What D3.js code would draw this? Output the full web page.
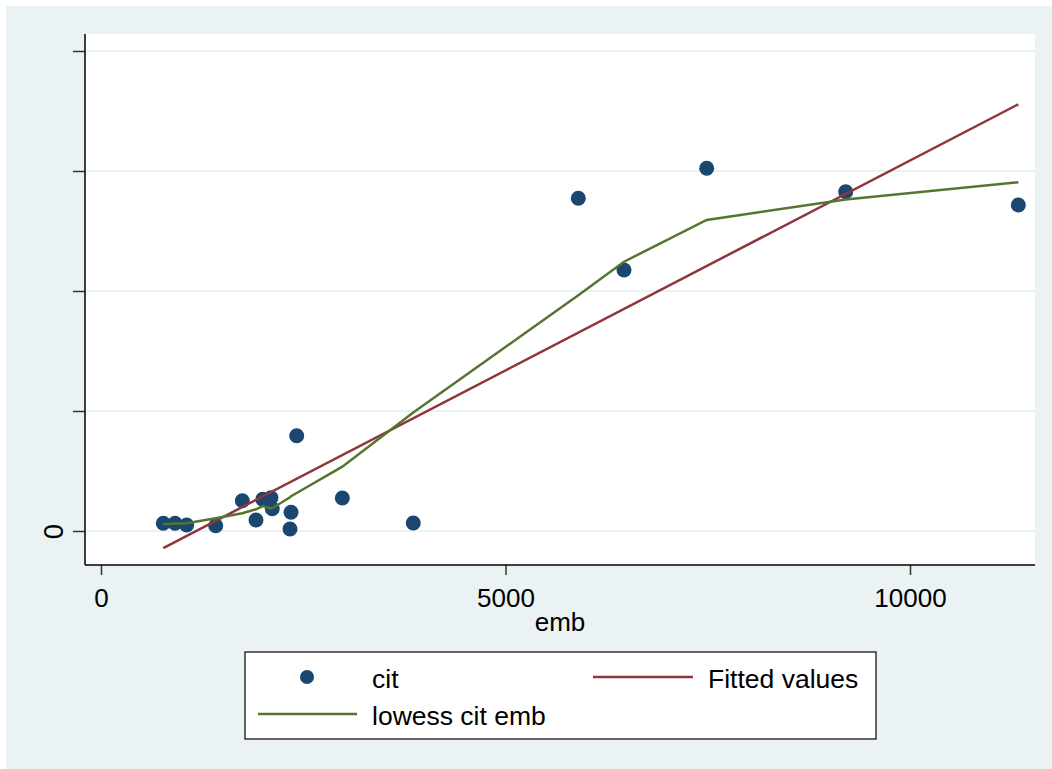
<!DOCTYPE html>
<html>
<head>
<meta charset="utf-8">
<script src="https://cdn.jsdelivr.net/npm/d3@7"></script>
<style>
  body { margin: 0; background: #fff; }
  text { font-family: "Liberation Sans", Arial, sans-serif; fill: #000; }
</style>
</head>
<body>
<div id="chart"></div>
<script>
// scatter: emb (x) vs cit (y)
var emb = [770, 915, 1059, 1418, 1747, 1916, 1999, 2101, 2117, 2336, 2349, 2419, 2983, 3860, 5900, 6465, 7487, 9205, 11339];
var cit = [0.064, 0.064, 0.05, 0.044, 0.2525, 0.092, 0.264, 0.2775, 0.186, 0.017, 0.156, 0.794, 0.275, 0.067, 2.7725, 2.175, 3.0225, 2.8275, 2.717];

// lowess smooth, evaluated at each emb value
var lowessCit = [0.056, 0.0625, 0.064, 0.106, 0.1475, 0.181, 0.208, 0.1875, 0.19, 0.28, 0.29, 0.317, 0.536, 0.987, 1.965, 2.244, 2.592, 2.7625, 2.906];

// linear fit, at the ends of the emb range
var fitEmb = [770, 11339];
var fitCit = [-0.142, 3.556];

var xTicks = [0, 5000, 10000];
var xTickLabels = ['0', '5000', '10000'];
var yTicks = [0, 1, 2, 3, 4];
var yTickLabels = ['0', '', '', '', ''];

var legendLabels = ['cit', 'Fitted values', 'lowess cit emb'];

var colors = {
  bg: '#eaf2f3',
  navy: '#1a476f',
  maroon: '#90353b',
  green: '#55752f'
};

var W = 1052, H = 769;
var plot = { left: 85, right: 1035, top: 34, bottom: 565 };

var svg = d3.select('#chart')
  .append('svg')
  .attr('width', W)
  .attr('height', H);

// graph region
svg.append('rect')
  .attr('x', 6).attr('y', 6)
  .attr('width', W - 6).attr('height', H - 6)
  .attr('fill', colors.bg);

// plot region
svg.append('rect')
  .attr('x', plot.left).attr('y', plot.top)
  .attr('width', plot.right - plot.left).attr('height', plot.bottom - plot.top)
  .attr('fill', '#fff');

var x = d3.scaleLinear()
  .domain([(plot.left - 101) / 0.0809, (plot.right - 101) / 0.0809])
  .range([plot.left, plot.right]);

var y = d3.scaleLinear()
  .domain([(531 - plot.bottom) / 120, (531 - plot.top) / 120])
  .range([plot.bottom, plot.top]);

// gridlines
svg.append('g')
  .selectAll('line.grid')
  .data(yTicks)
  .enter().append('line')
  .attr('class', 'grid')
  .attr('x1', plot.left).attr('x2', plot.right)
  .attr('y1', function(d) { return y(d); })
  .attr('y2', function(d) { return y(d); })
  .attr('stroke', colors.bg)
  .attr('stroke-width', 2);

// axes
var yAxis = svg.append('g')
  .attr('transform', 'translate(' + plot.left + ',0)')
  .call(d3.axisLeft(y).tickValues(yTicks).tickSize(12).tickFormat(function(d, i) { return yTickLabels[i]; }));

var xAxis = svg.append('g')
  .attr('transform', 'translate(0,' + plot.bottom + ')')
  .call(d3.axisBottom(x).tickValues(xTicks).tickSize(10).tickFormat(function(d, i) { return xTickLabels[i]; }));

[yAxis, xAxis].forEach(function(ax) {
  ax.select('.domain').remove();
  ax.selectAll('.tick line').attr('stroke', '#333').attr('stroke-width', 1.5);
  ax.selectAll('.tick text').attr('font-size', 26).attr('font-family', '"Liberation Sans", Arial, sans-serif').attr('fill', '#000');
});

yAxis.selectAll('.tick text')
  .attr('x', null).attr('dy', null)
  .attr('font-size', 27.5)
  .attr('text-anchor', 'middle')
  .attr('transform', 'translate(-22,0) rotate(-90)');

xAxis.selectAll('.tick text')
  .attr('y', 42).attr('dy', null);

svg.append('line')
  .attr('x1', plot.left).attr('x2', plot.left)
  .attr('y1', plot.top).attr('y2', plot.bottom)
  .attr('stroke', '#000').attr('stroke-width', 1.5);
svg.append('line')
  .attr('x1', plot.left).attr('x2', plot.right)
  .attr('y1', plot.bottom).attr('y2', plot.bottom)
  .attr('stroke', '#000').attr('stroke-width', 1.5);

// x title
svg.append('text')
  .attr('x', (plot.left + plot.right) / 2)
  .attr('y', 631)
  .attr('text-anchor', 'middle')
  .attr('font-size', 26)
  .text('emb');

// scatter
svg.append('g')
  .selectAll('circle.pt')
  .data(emb)
  .enter().append('circle')
  .attr('class', 'pt')
  .attr('cx', function(d) { return x(d); })
  .attr('cy', function(d, i) { return y(cit[i]); })
  .attr('r', 7.5)
  .attr('fill', colors.navy);

var line = d3.line()
  .x(function(d) { return x(d[0]); })
  .y(function(d) { return y(d[1]); });

svg.append('path')
  .datum(d3.zip(fitEmb, fitCit))
  .attr('d', line)
  .attr('fill', 'none')
  .attr('stroke', colors.maroon)
  .attr('stroke-width', 2.5);

svg.append('path')
  .datum(d3.zip(emb, lowessCit))
  .attr('d', line)
  .attr('fill', 'none')
  .attr('stroke', colors.green)
  .attr('stroke-width', 2.5);

// legend
var legend = svg.append('g');
legend.append('rect')
  .attr('x', 245).attr('y', 652)
  .attr('width', 631).attr('height', 87)
  .attr('fill', '#fff')
  .attr('stroke', '#000')
  .attr('stroke-width', 1.2);

legend.append('circle')
  .attr('cx', 307).attr('cy', 677)
  .attr('r', 7)
  .attr('fill', colors.navy);
legend.append('line')
  .attr('x1', 593).attr('x2', 693)
  .attr('y1', 677).attr('y2', 677)
  .attr('stroke', colors.maroon).attr('stroke-width', 2.5);
legend.append('line')
  .attr('x1', 258).attr('x2', 357)
  .attr('y1', 714).attr('y2', 714)
  .attr('stroke', colors.green).attr('stroke-width', 2.5);

var legendPos = [[372, 688], [708, 688], [372, 725]];
legend.selectAll('text.lbl')
  .data(legendLabels)
  .enter().append('text')
  .attr('class', 'lbl')
  .attr('x', function(d, i) { return legendPos[i][0]; })
  .attr('y', function(d, i) { return legendPos[i][1]; })
  .attr('font-size', 26.5)
  .text(function(d) { return d; });
</script>
</body>
</html>
